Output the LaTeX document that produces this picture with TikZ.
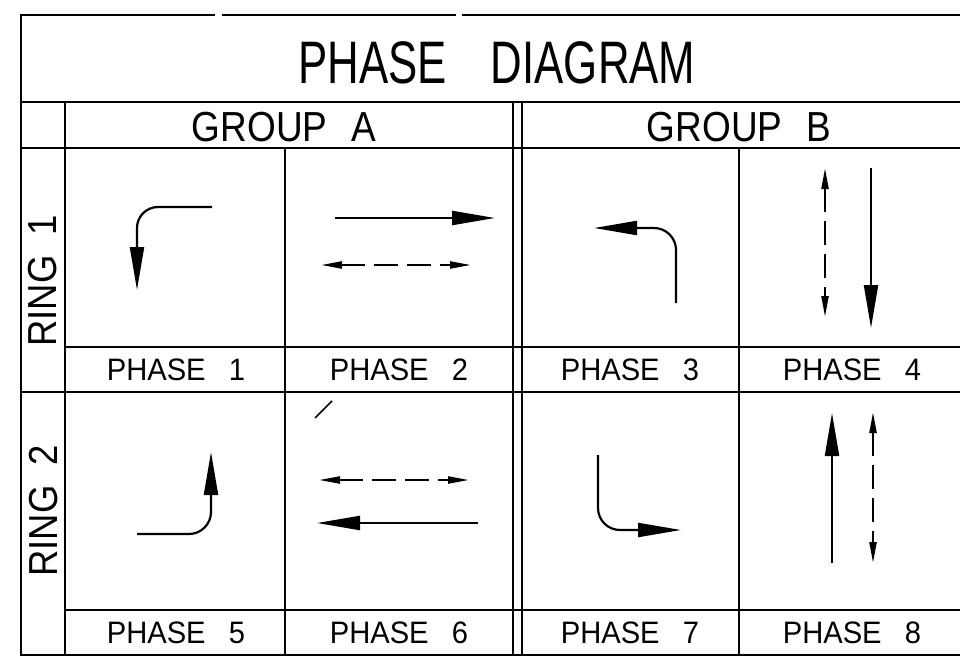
\documentclass[tikz,border=0pt]{standalone}
\usepackage{graphicx}
\usepackage{fontspec}
\usetikzlibrary{arrows.meta}
\newfontfamily\cad{Liberation Sans}
\newcommand\phl[1]{\scalebox{0.94}[1]{PHASE\hspace{0.8em}#1}}
\newcommand\grl[1]{\scalebox{0.88}[1]{GROUP\hspace{0.65em}#1}}
\newcommand\rgl[1]{\scalebox{0.9}[1]{RING\hspace{0.55em}#1}}
\tikzset{
  tbl/.style={line width=2.6pt, line cap=rect},
  arr/.style={line width=2.2pt, -{Triangle[length=43pt,width=14pt]}},
  darr/.style={line width=2.2pt, dash pattern=on 24pt off 9pt,
    {Triangle[length=21pt,width=7pt]}-{Triangle[length=21pt,width=7pt]}},
  phaselbl/.style={inner sep=0pt, font=\cad\fontsize{31}{31}\selectfont},
  grouplbl/.style={inner sep=0pt, font=\cad\fontsize{42}{42}\selectfont},
  ringlbl/.style={inner sep=0pt, rotate=90, font=\cad\fontsize{40.5}{40.5}\selectfont},
  titlelbl/.style={inner sep=0pt, font=\cad\fontsize{60}{60}\selectfont}
}
\begin{document}
\begin{tikzpicture}[x=1pt,y=-1pt]
\clip (0,0) rectangle (960,658);
\fill[white] (0,0) rectangle (960,658);
% table frame
\draw[tbl] (21,15) -- (214,15);
\draw[tbl] (223,15) -- (455,15);
\draw[tbl] (463,15) -- (975,15);
\draw[tbl] (21,15) -- (21,655);
\draw[tbl] (21,655) -- (975,655);
\draw[tbl] (21,102) -- (975,102);
\draw[tbl] (21,148) -- (975,148);
\draw[tbl] (65,347) -- (975,347);
\draw[tbl] (21,392) -- (975,392);
\draw[tbl] (65,610) -- (975,610);
\draw[tbl] (65,102) -- (65,655);
\draw[tbl] (285,148) -- (285,655);
\draw[tbl] (513,102) -- (513,655);
\draw[tbl] (522,102) -- (522,655);
\draw[tbl] (739,148) -- (739,655);
% texts
\node[titlelbl] (title) at (497,63) {\scalebox{0.73}[1]{PHASE\hspace{1.0em}DIAGRAM}};
\node[grouplbl] (ga) at (284,127) {\grl{A}};
\node[grouplbl] (gb) at (739,127) {\grl{B}};
\node[ringlbl] (r1) at (43,281) {\rgl{1}};
\node[ringlbl] (r2) at (44,511) {\rgl{2}};
\node[phaselbl] (p1) at (176,369.5) {\phl{1}};
\node[phaselbl] (p2) at (399,369.5) {\phl{2}};
\node[phaselbl] (p3) at (630,369.5) {\phl{3}};
\node[phaselbl] (p4) at (852,369.5) {\phl{4}};
\node[phaselbl] (p5) at (176,632.5) {\phl{5}};
\node[phaselbl] (p6) at (399,632.5) {\phl{6}};
\node[phaselbl] (p7) at (630,632.5) {\phl{7}};
\node[phaselbl] (p8) at (852,632.5) {\phl{8}};
% phase 1
\draw[arr, rounded corners=21pt] (212,207) -- (137,207) -- (137,290);
% phase 2
\draw[arr] (335,218) -- (495,218);
\draw[darr] (321,265) -- (471,265);
% phase 3
\draw[arr, rounded corners=22pt] (676,303) -- (676,228) -- (594,228);
% phase 4
\draw[darr] (825,168) -- (825,317);
\draw[arr] (871,168) -- (871,328);
% phase 5
\draw[arr, rounded corners=22pt] (137,534) -- (211,534) -- (211,452);
% phase 6
\draw[line width=1.6pt] (315,418) -- (332,401);
\draw[darr] (319,480) -- (469,480);
\draw[arr] (478,523) -- (317,523);
% phase 7
\draw[arr, rounded corners=22pt] (598,455) -- (598,530) -- (681,530);
% phase 8
\draw[arr] (832,563) -- (832,413);
\draw[darr] (873,412) -- (873,563);
\end{tikzpicture}
\end{document}
